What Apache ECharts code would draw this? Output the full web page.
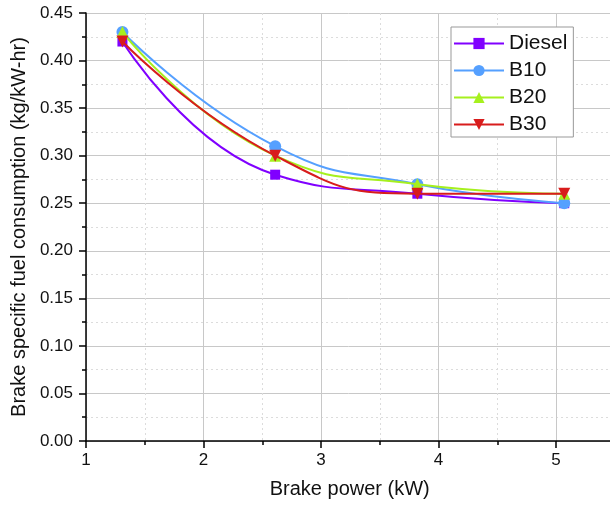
<!DOCTYPE html>
<html><head><meta charset="utf-8">
<script src="https://cdn.jsdelivr.net/npm/echarts@6/dist/echarts.min.js"></script>
<style>html,body{margin:0;padding:0;background:#fff}#c{width:610px;height:510px}</style>
</head><body><div id="c"></div>
<script>
const power = [1.31, 2.61, 3.82, 5.07];
const diesel = [0.42, 0.28, 0.26, 0.25];
const b10 = [0.43, 0.31, 0.27, 0.25];
const b20 = [0.43, 0.30, 0.27, 0.26];
const b30 = [0.42, 0.30, 0.26, 0.26];
const seriesNames = ['Diesel', 'B10', 'B20', 'B30'];
const seriesColors = ['#8000ff', '#55a0ff', '#a6f01e', '#d81c1c'];
const seriesSymbols = ['rect', 'circle', 'triangle', 'path://M0,0 L10,0 L5,9 Z'];
const allValues = [diesel, b10, b20, b30];

const font = 'Liberation Sans, Arial, sans-serif';
const chart = echarts.init(document.getElementById('c'), null, {renderer: 'canvas'});
const series = seriesNames.map((n, i) => ({
  name: n, type: 'line', smooth: 0.5,
  data: power.map((x, j) => [x, allValues[i][j]]),
  symbol: seriesSymbols[i], symbolSize: i === 0 ? 10 : 12,
  itemStyle: {color: seriesColors[i]},
  lineStyle: {color: seriesColors[i], width: 2},
  z: 2 + i
}));
chart.setOption({
  backgroundColor: '#fff',
  animation: false,
  textStyle: {fontFamily: font},
  grid: {left: 86, top: 13, bottom: 69, right: -63.5, containLabel: false, outerBoundsMode: 'none'},
  legend: {
    left: 451, top: 27, orient: 'vertical',
    backgroundColor: '#fff', borderColor: '#999', borderWidth: 1,
    padding: [6, 6, 2, 2], itemWidth: 50, itemHeight: 14, itemGap: 6,
    textStyle: {fontSize: 21, color: '#111', fontFamily: font, lineHeight: 21, padding: [0,0,0,0]},
    data: seriesNames
  },
  xAxis: {
    type: 'value', min: 1, max: 6, interval: 1,
    name: 'Brake power (kW)', nameLocation: 'middle', nameGap: 38,
    nameTextStyle: {fontSize: 20, color: '#111', fontFamily: font, padding: [0, 60, 0, 0]},
    axisLine: {show: true, onZero: false, lineStyle: {color: '#000', width: 1.5}},
    axisTick: {show: true, inside: false, length: 7, lineStyle: {color: '#000', width: 1.5}},
    minorTick: {show: true, splitNumber: 2, length: 4, lineStyle: {color: '#000', width: 1.5}},
    axisLabel: {fontSize: 17, color: '#111', margin: 11, fontFamily: font},
    splitLine: {show: true, lineStyle: {color: '#c8c8c8', width: 1}},
    minorSplitLine: {show: true, lineStyle: {color: '#dcdcdc', width: 1, type: [2, 3]}}
  },
  yAxis: {
    type: 'value', min: 0, max: 0.45, interval: 0.05,
    name: 'Brake specific fuel consumption (kg/kW-hr)', nameLocation: 'middle', nameGap: 56,
    nameTextStyle: {fontSize: 20, color: '#111', fontFamily: font},
    axisLine: {show: true, onZero: false, lineStyle: {color: '#000', width: 1.5}},
    axisTick: {show: true, inside: false, length: 7, lineStyle: {color: '#000', width: 1.5}},
    minorTick: {show: true, splitNumber: 2, length: 4, lineStyle: {color: '#000', width: 1.5}},
    axisLabel: {fontSize: 17, color: '#111', margin: 13, fontFamily: font,
      formatter: v => v.toFixed(2)},
    splitLine: {show: true, lineStyle: {color: '#c8c8c8', width: 1}},
    minorSplitLine: {show: true, lineStyle: {color: '#dcdcdc', width: 1, type: [2, 3]}}
  },
  series: series
});
</script></body></html>
